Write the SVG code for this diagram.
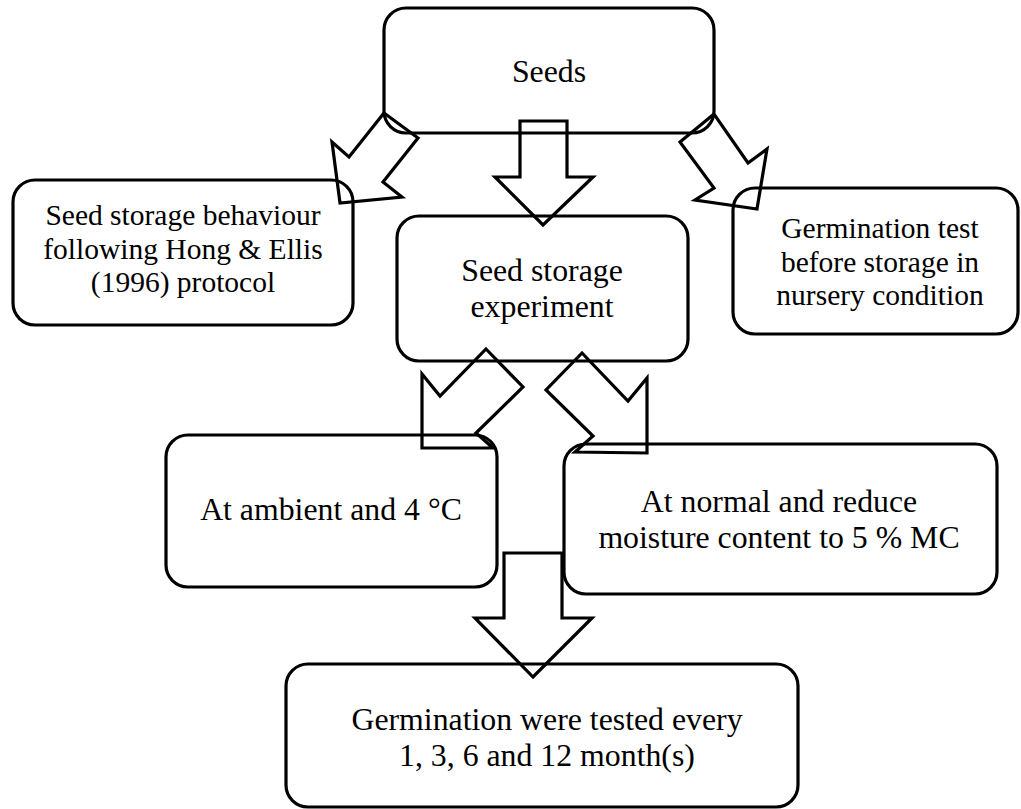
<svg xmlns="http://www.w3.org/2000/svg" width="1021" height="809" viewBox="0 0 1021 809">
<style>
.box{fill:none;stroke:#000;stroke-width:3.2}
.arr{fill:none;stroke:#000;stroke-width:3.2;stroke-linejoin:miter}
.t{font-family:"Liberation Serif","Times New Roman",serif;fill:#000;text-anchor:middle}
.s30{font-size:29.5px}
.s32{font-size:31.8px}
</style>
<rect width="1021" height="809" fill="#fff"/>
<g id="seeds">
<rect class="box" x="384" y="8" width="330" height="125" rx="22"/>
<text class="t s32" x="549" y="82">Seeds</text>
</g>
<g id="storage-behaviour">
<rect class="box" x="13" y="180" width="340" height="145" rx="22"/>
<text class="t s30" x="183" y="225">Seed storage behaviour</text>
<text class="t s30" x="183" y="259">following Hong &amp; Ellis</text>
<text class="t s30" x="183" y="292">(1996) protocol</text>
</g>
<g id="germination-before">
<rect class="box" x="733" y="188" width="285" height="146" rx="22"/>
<text class="t s30" x="880" y="238">Germination test</text>
<text class="t s30" x="880" y="272">before storage in</text>
<text class="t s30" x="880" y="305">nursery condition</text>
</g>
<g id="storage-experiment">
<rect class="box" x="397" y="216" width="291" height="145" rx="22"/>
<text class="t s32" x="542" y="281">Seed storage</text>
<text class="t s32" x="542" y="317">experiment</text>
</g>
<g id="ambient">
<rect class="box" x="166" y="435" width="331" height="152" rx="22"/>
<text class="t s32" x="331" y="520">At ambient and 4 °C</text>
</g>
<g id="moisture">
<rect class="box" x="564" y="444" width="433" height="150" rx="22"/>
<text class="t s32" x="779" y="512">At normal and reduce</text>
<text class="t s32" x="779" y="548">moisture content to 5 % MC</text>
</g>
<g id="tested">
<rect class="box" x="286" y="664" width="512" height="143" rx="22"/>
<text class="t s32" x="547" y="730">Germination were tested every</text>
<text class="t s32" x="547" y="766">1, 3, 6 and 12 month(s)</text>
</g>
<g id="connectors">
<polygon class="arr" points="384,113 418,138 383,182 402,197 340,203 332,142 349,157"/>
<polygon class="arr" points="520,121 567,121 567,177 593,177 543,225 495,177 520,177"/>
<polygon class="arr" points="714,114 680,142 714,188 695,200 757,209 767,149 748,163"/>
<polygon class="arr" points="486,349 523,387 476,433 493,448 422,448 422,374 440,396"/>
<polygon class="arr" points="582,353 546,390 593,436 575,452 647,453 647,378 628,401"/>
<polygon class="arr" points="504,553 562,553 562,618 592,618 533,677 475,618 504,618"/>
</g>
</svg>
